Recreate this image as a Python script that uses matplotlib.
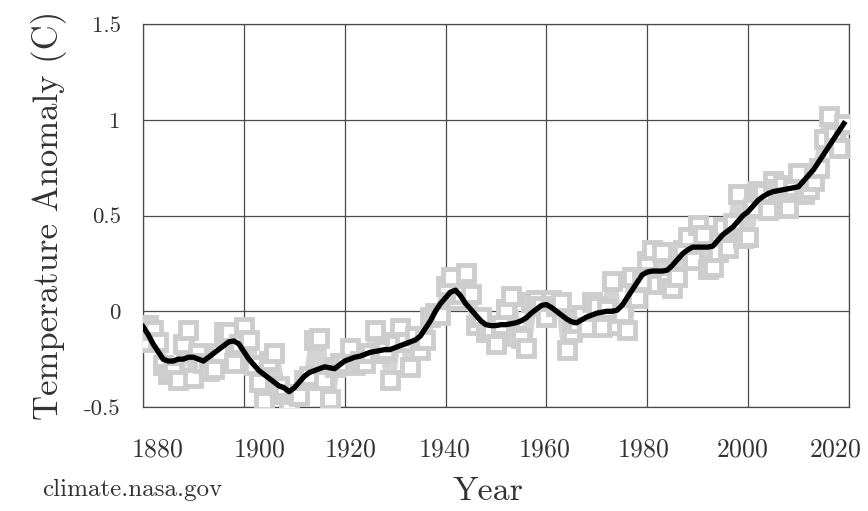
"""Global temperature anomaly chart (climate.nasa.gov style)."""

import matplotlib

matplotlib.use("Agg")
import matplotlib.pyplot as plt
import matplotlib.transforms as mtransforms
import numpy as np

plt.rcParams["font.family"] = ["cmr10", "DejaVu Serif"]
plt.rcParams["axes.formatter.use_mathtext"] = True

# Annual mean anomaly (gray squares)
years = np.arange(1880, 2020)
annual = [
    -0.16, -0.07, -0.10, -0.16, -0.28, -0.33, -0.31, -0.36, -0.17, -0.10,
    -0.35, -0.22, -0.27, -0.31, -0.30, -0.22, -0.11, -0.11, -0.27, -0.17,
    -0.08, -0.15, -0.28, -0.37, -0.47, -0.26, -0.22, -0.39, -0.43, -0.48,
    -0.43, -0.44, -0.36, -0.34, -0.15, -0.14, -0.36, -0.46, -0.29, -0.27,
    -0.27, -0.19, -0.28, -0.26, -0.27, -0.22, -0.10, -0.22, -0.20, -0.36,
    -0.16, -0.09, -0.16, -0.29, -0.13, -0.20, -0.15, -0.03, -0.01, -0.02,
    0.13, 0.18, 0.06, 0.09, 0.20, 0.09, -0.07, -0.03, -0.11, -0.11,
    -0.17, -0.07, 0.01, 0.08, -0.13, -0.14, -0.19, 0.05, 0.06, 0.03,
    -0.03, 0.06, 0.03, 0.05, -0.20, -0.11, -0.06, -0.02, -0.08, 0.05,
    0.03, -0.08, 0.01, 0.16, -0.07, -0.01, -0.10, 0.18, 0.07, 0.16,
    0.26, 0.32, 0.14, 0.31, 0.16, 0.12, 0.18, 0.32, 0.39, 0.27,
    0.45, 0.40, 0.22, 0.23, 0.31, 0.44, 0.33, 0.46, 0.61, 0.38,
    0.39, 0.54, 0.63, 0.62, 0.53, 0.68, 0.64, 0.66, 0.54, 0.65,
    0.72, 0.61, 0.64, 0.68, 0.75, 0.90, 1.02, 0.92, 0.85, 0.98,
]

# Smoothed curve (black line)
smoothed = [
    -0.08, -0.12, -0.17, -0.21, -0.25, -0.26, -0.26, -0.25, -0.25, -0.24,
    -0.24, -0.25, -0.26, -0.24, -0.22, -0.20, -0.18, -0.16, -0.155, -0.17,
    -0.21, -0.25, -0.28, -0.31, -0.33, -0.35, -0.37, -0.39, -0.40, -0.42,
    -0.40, -0.37, -0.34, -0.32, -0.31, -0.30, -0.29, -0.295, -0.30, -0.28,
    -0.26, -0.25, -0.24, -0.235, -0.225, -0.215, -0.21, -0.205, -0.20, -0.20,
    -0.19, -0.18, -0.17, -0.16, -0.15, -0.13, -0.09, -0.05, 0.00, 0.04,
    0.07, 0.10, 0.11, 0.08, 0.04, 0.01, -0.02, -0.05, -0.07, -0.075,
    -0.075, -0.07, -0.07, -0.065, -0.06, -0.05, -0.035, -0.01, 0.01, 0.03,
    0.035, 0.02, 0.00, -0.02, -0.04, -0.055, -0.06, -0.045, -0.03, -0.02,
    -0.01, -0.005, 0.00, 0.00, 0.005, 0.03, 0.07, 0.11, 0.15, 0.19,
    0.205, 0.21, 0.21, 0.21, 0.215, 0.24, 0.27, 0.30, 0.32, 0.335,
    0.335, 0.335, 0.335, 0.34, 0.37, 0.40, 0.42, 0.44, 0.47, 0.50,
    0.52, 0.55, 0.58, 0.60, 0.615, 0.625, 0.63, 0.635, 0.64, 0.645,
    0.65, 0.68, 0.71, 0.74, 0.78, 0.82, 0.86, 0.90, 0.94, 0.98,
]

x_ticks = [1880, 1900, 1920, 1940, 1960, 1980, 2000, 2020]
y_ticks = [-0.5, 0, 0.5, 1, 1.5]
y_tick_labels = ["-0.5", "0", "0.5", "1", "1.5"]

text_color = "#333333"
grid_color = "#4a4a4a"

fig = plt.figure(figsize=(8.68, 5.11), dpi=100)
ax = fig.add_axes([0.1647, 0.2035, 0.8133, 0.7495])

ax.plot(years, annual, color="#d4d4d4", linewidth=8, solid_joinstyle="round",
        solid_capstyle="round", zorder=2)
ax.plot(years, annual, linestyle="none", marker="s", markersize=11,
        markerfacecolor="white", markeredgecolor="#cdcdcd",
        markeredgewidth=3.5, zorder=3)
ax.plot(years, smoothed, color="black", linewidth=3.8, zorder=4)

ax.set_xlim(1880, 2020)
ax.set_ylim(-0.5, 1.5)
ax.set_xticks(x_ticks)
ax.set_yticks(y_ticks)
ax.set_yticklabels(y_tick_labels)
ax.tick_params(axis="both", length=0, colors=text_color)
ax.tick_params(axis="x", labelsize=18.5, pad=22)
ax.tick_params(axis="y", labelsize=16.5, pad=16)

# year labels sit slightly off their grid lines, as in the original
x_label_shift = [14, 15, 6, -1, -2, -4, -6, -14]
for lbl, dx in zip(ax.get_xticklabels(), x_label_shift):
    offset = mtransforms.ScaledTranslation(dx / 100, 0, fig.dpi_scale_trans)
    lbl.set_transform(lbl.get_transform() + offset)

ax.grid(True, color=grid_color, linewidth=0.9, zorder=1)
ax.set_axisbelow(True)
for spine in ax.spines.values():
    spine.set_color(grid_color)
    spine.set_linewidth(0.9)

ax.set_ylabel("Temperature Anomaly (C)", fontsize=25, color=text_color,
              labelpad=12)
fig.text(0.562, 0.022, "Year", fontsize=24.5, color=text_color, ha="center")
fig.text(0.048, 0.03, "climate.nasa.gov", fontsize=18, color=text_color)

plt.savefig("out.png", dpi=100, facecolor="white")
plt.close()
